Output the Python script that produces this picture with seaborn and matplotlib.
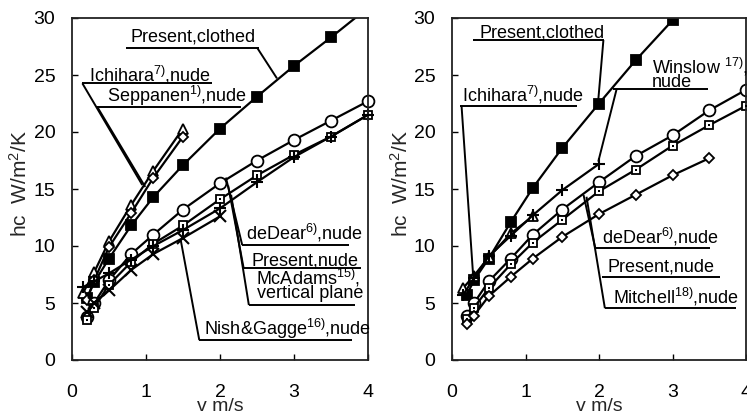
import matplotlib
matplotlib.use("Agg")
import matplotlib.pyplot as plt
import seaborn as sns

# ---- data: air speed v [m/s] and convective coefficient hc [W/m2/K] ----
v_full = [0.2, 0.3, 0.5, 0.8, 1.1, 1.5, 2.0, 2.5, 3.0, 3.5, 4.0]

# left panel
L_clothed_v = [0.2, 0.3, 0.5, 0.8, 1.1, 1.5, 2.0, 2.5, 3.0, 3.5, 4.0]
L_clothed_h = [5.4, 6.8, 8.9, 11.8, 14.3, 17.1, 20.3, 23.1, 25.8, 28.3, 30.9]
L_ichihara_v = [0.15, 0.3, 0.5, 0.8, 1.1, 1.5]
L_ichihara_h = [5.9, 7.7, 10.4, 13.6, 16.6, 20.3]
L_seppanen_v = [0.2, 0.3, 0.5, 0.8, 1.1, 1.5]
L_seppanen_h = [5.3, 7.0, 9.9, 12.9, 16.0, 19.6]
L_dedear_h = [3.8, 5.0, 7.0, 9.3, 11.0, 13.2, 15.5, 17.5, 19.3, 21.0, 22.7]
L_nude_h = [3.5, 4.6, 6.6, 8.6, 10.2, 11.8, 14.1, 16.2, 18.0, 19.6, 21.5]
L_mcadams_v = [0.15, 0.3, 0.5, 0.8, 1.1, 1.5, 2.0, 2.5, 3.0, 3.5, 4.0]
L_mcadams_h = [6.4, 6.9, 7.6, 8.8, 10.0, 11.4, 13.3, 15.6, 17.8, 19.6, 21.5]
L_nish_v = [0.2, 0.3, 0.5, 0.8, 1.1, 1.5, 2.0]
L_nish_h = [4.2, 5.0, 6.1, 7.9, 9.3, 10.7, 12.6]

# right panel
R_clothed_v = [0.2, 0.3, 0.5, 0.8, 1.1, 1.5, 2.0, 2.5, 3.0, 3.5]
R_clothed_h = [5.7, 7.0, 8.9, 12.1, 15.1, 18.6, 22.5, 26.3, 29.8, 33.3]
R_winslow_v = [0.15, 0.3, 0.5, 0.8, 1.1, 1.5, 2.0]
R_winslow_h = [5.7, 7.2, 9.1, 10.9, 12.7, 14.9, 17.2]
R_ichihara_v = [0.15, 0.3, 0.5, 0.8, 1.1]
R_ichihara_h = [6.3, 7.4, 9.0, 11.1, 12.6]
R_dedear_h = [3.9, 5.0, 6.9, 8.9, 11.0, 13.2, 15.6, 17.9, 19.7, 21.9, 23.7]
R_nude_h = [3.6, 4.6, 6.3, 8.4, 10.3, 12.3, 14.8, 16.7, 18.8, 20.6, 22.3]
R_mitchell_v = [0.2, 0.3, 0.5, 0.8, 1.1, 1.5, 2.0, 2.5, 3.0, 3.5]
R_mitchell_h = [3.2, 3.9, 5.6, 7.3, 8.9, 10.8, 12.8, 14.5, 16.2, 17.7]

x_ticks = [0, 1, 2, 3, 4]
y_ticks = [0, 5, 10, 15, 20, 25, 30]

# ---- style ----
sns.set_theme(style="ticks")
plt.rcParams["font.family"] = ["Liberation Sans", "DejaVu Sans"]
plt.rcParams["mathtext.default"] = "regular"

W, H = 747, 416
fig = plt.figure(figsize=(W / 100, H / 100), dpi=100)
axL = fig.add_axes([72 / W, 56 / H, 296 / W, 342 / H])
axR = fig.add_axes([452 / W, 56 / H, 294 / W, 342 / H])

LW = 1.6


def series(ax, v, h, marker, ms, mfc="white", mew=1.3, clip=False):
    sns.lineplot(x=v, y=h, ax=ax, color="black", lw=LW, marker=marker,
                 markersize=ms, markerfacecolor=mfc, markeredgecolor="black",
                 markeredgewidth=mew, estimator=None, sort=False,
                 errorbar=None, clip_on=clip)


def dotted_squares(ax, v, h):
    # small open squares carry a centre dot
    sns.scatterplot(x=v, y=h, ax=ax, color="black", marker="s", s=3,
                    linewidth=0, zorder=5, clip_on=False, legend=False)


def seg(ax, xs, ys, lw=1.4):
    ax.plot(xs, ys, color="black", lw=lw, clip_on=False, solid_capstyle="butt")


def label(ax, x, y, s, fs=13):
    ax.text(x, y, s, fontsize=fs, va="baseline", ha="left", color="black",
            clip_on=False)


# left panel curves
series(axL, L_clothed_v, L_clothed_h, "s", 6.5, mfc="black", clip=True)
series(axL, L_ichihara_v, L_ichihara_h, "^", 7.5)
series(axL, L_seppanen_v, L_seppanen_h, "D", 5.5)
series(axL, v_full, L_dedear_h, "o", 8.5)
series(axL, v_full, L_nude_h, "s", 5.2)
dotted_squares(axL, v_full, L_nude_h)
series(axL, L_mcadams_v, L_mcadams_h, "+", 9, mew=1.5)
series(axL, L_nish_v, L_nish_h, "x", 8, mew=1.5)

# right panel curves
series(axR, R_clothed_v, R_clothed_h, "s", 6.5, mfc="black", clip=True)
series(axR, R_ichihara_v, R_ichihara_h, "^", 7.5)
series(axR, R_winslow_v, R_winslow_h, "+", 9, mew=1.5)
series(axR, v_full, R_dedear_h, "o", 8.5)
series(axR, v_full, R_nude_h, "s", 5.2)
dotted_squares(axR, v_full, R_nude_h)
series(axR, R_mitchell_v, R_mitchell_h, "D", 5.5)

# left panel call-outs
label(axL, 0.79, 27.92, "Present,clothed")
seg(axL, [0.73, 2.53], [27.41, 27.41])
seg(axL, [2.50, 2.77], [27.41, 24.7])

label(axL, 0.23, 24.41, "Ichihara$^{7)}$,nude")
seg(axL, [0.14, 1.89], [24.27, 24.27])
seg(axL, [0.14, 0.95], [24.27, 15.35])

label(axL, 0.47, 22.66, "Seppanen$^{1)}$,nude")
seg(axL, [0.34, 2.28], [22.22, 22.22])
seg(axL, [0.34, 0.99], [22.22, 15.18])

label(axL, 2.35, 10.53, "deDear$^{6)}$,nude")
seg(axL, [2.30, 3.74], [10.09, 10.09])
seg(axL, [2.08, 2.30], [16.0, 10.09])

label(axL, 2.43, 8.25, "Present,nude")
seg(axL, [2.32, 3.90], [8.04, 8.04])
seg(axL, [2.11, 2.32], [15.3, 8.04])

label(axL, 2.48, 6.58, "McAdams$^{15)}$,")
label(axL, 2.50, 5.41, "vertical plane")
seg(axL, [2.39, 3.83], [4.82, 4.82])
seg(axL, [2.15, 2.39], [14.5, 4.82])

label(axL, 1.78, 2.19, "Nish&Gagge$^{16)}$,nude")
seg(axL, [1.72, 3.78], [1.75, 1.75])
seg(axL, [1.47, 1.72], [10.5, 1.75])

# right panel call-outs
label(axR, 0.38, 28.25, "Present,clothed")
seg(axR, [0.29, 2.07], [28.07, 28.07])
seg(axR, [2.06, 1.99], [28.07, 22.8])

label(axR, 2.72, 25.1, "Winslow $^{17)}$,")
label(axR, 2.72, 23.95, "nude")
seg(axR, [2.19, 3.48], [23.77, 23.77])
seg(axR, [2.24, 1.99], [23.77, 17.4])

label(axR, 0.14, 22.66, "Ichihara$^{7)}$,nude")
seg(axR, [0.11, 1.70], [22.28, 22.28])
seg(axR, [0.13, 0.29], [22.28, 7.17])

label(axR, 2.04, 10.26, "deDear$^{6)}$,nude")
seg(axR, [1.95, 3.51], [9.8, 9.8])
seg(axR, [1.79, 1.95], [14.47, 9.8])

label(axR, 2.12, 7.75, "Present,nude")
seg(axR, [2.04, 3.65], [7.31, 7.31])

label(axR, 2.19, 5.0, "Mitchell$^{18)}$,nude")
seg(axR, [2.08, 3.87], [4.54, 4.54])
seg(axR, [1.83, 2.08], [14.32, 4.54])

# axes cosmetics
for ax in (axL, axR):
    ax.set_xlim(0, 4)
    ax.set_ylim(0, 30)
    ax.set_xticks(x_ticks)
    ax.set_yticks(y_ticks)
    ax.tick_params(axis="both", direction="in", length=4, width=1.0,
                   labelsize=14, colors="black")
    ax.tick_params(axis="x", pad=17)
    ax.tick_params(axis="y", pad=12)
    for sp in ax.spines.values():
        sp.set_visible(True)
        sp.set_color("#222222")
        sp.set_linewidth(1.3)
    ax.set_facecolor("white")
    ax.set_xlabel("v m/s", fontsize=14)
    ax.xaxis.set_label_coords(0.5, -0.135)
    ax.xaxis.label.set_verticalalignment("center")
    ax.set_ylabel("hc  W/m$^2$/K", fontsize=15)
    ax.yaxis.set_label_coords(-0.175, 0.515)
    ax.yaxis.label.set_verticalalignment("center")

fig.savefig("out.png", dpi=100, facecolor="white")
